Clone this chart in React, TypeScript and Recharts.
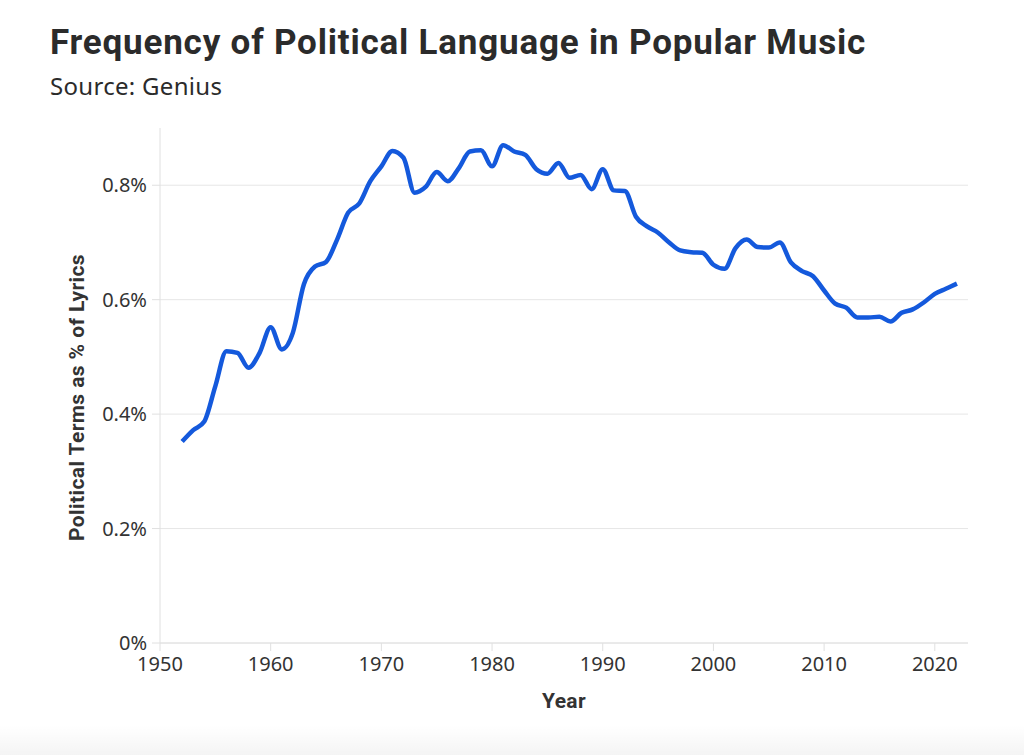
import React from 'react';
import { LineChart, Line, XAxis, YAxis, CartesianGrid, Label } from 'recharts';

const years = [
  1952, 1953, 1954, 1955, 1956, 1957, 1958, 1959, 1960, 1961, 1962, 1963, 1964, 1965, 1966, 1967, 1968, 1969,
  1970, 1971, 1972, 1973, 1974, 1975, 1976, 1977, 1978, 1979, 1980, 1981, 1982, 1983, 1984, 1985, 1986, 1987,
  1988, 1989, 1990, 1991, 1992, 1993, 1994, 1995, 1996, 1997, 1998, 1999, 2000, 2001, 2002, 2003, 2004, 2005,
  2006, 2007, 2008, 2009, 2010, 2011, 2012, 2013, 2014, 2015, 2016, 2017, 2018, 2019, 2020, 2021, 2022,
];

const politicalShare = [
  0.352, 0.372, 0.387, 0.449, 0.510, 0.507, 0.481, 0.507, 0.552, 0.513, 0.542, 0.627, 0.658, 0.666, 0.705, 0.752, 0.768, 0.807,
  0.833, 0.860, 0.848, 0.787, 0.797, 0.823, 0.807, 0.830, 0.859, 0.861, 0.833, 0.870, 0.859, 0.853, 0.828, 0.820, 0.839, 0.813,
  0.818, 0.793, 0.828, 0.791, 0.790, 0.745, 0.728, 0.717, 0.700, 0.686, 0.683, 0.682, 0.661, 0.654, 0.690, 0.705, 0.692, 0.691,
  0.700, 0.665, 0.650, 0.641, 0.616, 0.593, 0.586, 0.569, 0.569, 0.570, 0.562, 0.577, 0.583, 0.595, 0.610, 0.619, 0.628,
];

const yearTicks = [1950, 1960, 1970, 1980, 1990, 2000, 2010, 2020];
const shareTicks = [0, 0.2, 0.4, 0.6, 0.8];

const data = years.map((year, i) => ({ year, share: politicalShare[i] }));

const textColor = '#333333';
const lineColor = '#1459dc';
const gridColor = '#e6e6e6';
const tickFont = { fontFamily: 'Noto Sans', fontSize: 20, fill: textColor };
const axisTitleStyle = { fontFamily: 'Roboto', fontWeight: 700, fontSize: 21, letterSpacing: 0.4, fill: textColor };

const formatShare = (v: number) => (v === 0 ? '0%' : `${v.toFixed(1)}%`);

const YLabel = ({ viewBox }: any) => {
  const cx = viewBox.x + viewBox.width / 2 - 3;
  const cy = viewBox.y + viewBox.height / 2 + 12;
  return (
    <text
      x={cx}
      y={cy}
      transform={`rotate(-90 ${cx} ${cy})`}
      textAnchor="middle"
      dominantBaseline="central"
      style={axisTitleStyle}
    >
      Political Terms as % of Lyrics
    </text>
  );
};

const App: React.FC = () => {
  return (
    <div style={{ position: 'absolute', left: 0, top: 0, width: 1024, height: 755, background: '#ffffff', overflow: 'hidden' }}>
      <div style={{ position: 'absolute', left: 50, top: 22, fontFamily: 'Roboto', fontWeight: 700, fontSize: 35, letterSpacing: 0.8, color: '#2b2b2b', whiteSpace: 'nowrap' }}>
        Frequency of Political Language in Popular Music
      </div>
      <div style={{ position: 'absolute', left: 50, top: 69, fontFamily: 'Noto Sans', fontSize: 24, letterSpacing: 0.3, color: '#2b2b2b', whiteSpace: 'nowrap' }}>
        Source: Genius
      </div>
      <div style={{ position: 'absolute', left: 0, top: 0 }}>
        <LineChart width={1024} height={755} data={data} margin={{ top: 128, right: 56, bottom: 42, left: 0 }}>
          <CartesianGrid horizontal vertical={false} stroke={gridColor} horizontalValues={shareTicks} />
          <XAxis
            dataKey="year"
            type="number"
            domain={[1950, 2023]}
            ticks={yearTicks}
            height={70}
            tickSize={8}
            tickMargin={6}
            stroke="#e0e0e0"
            tick={tickFont}
          >
            <Label value="Year" position="insideBottom" offset={5} style={axisTitleStyle} />
          </XAxis>
          <YAxis
            type="number"
            domain={[0, 0.9]}
            ticks={shareTicks}
            width={160}
            tickSize={8}
            tickMargin={5}
            stroke="#e0e0e0"
            tick={tickFont}
            tickFormatter={formatShare}
          >
            <Label content={YLabel} />
          </YAxis>
          <Line
            type="monotone"
            dataKey="share"
            stroke={lineColor}
            strokeWidth={4.5}
            dot={false}
            isAnimationActive={false}
          />
        </LineChart>
      </div>
      <div style={{ position: 'absolute', left: 0, top: 725, width: 1024, height: 30, background: 'linear-gradient(to bottom, rgba(0,0,0,0), rgba(0,0,0,0.045))' }} />
    </div>
  );
};

export default App;
